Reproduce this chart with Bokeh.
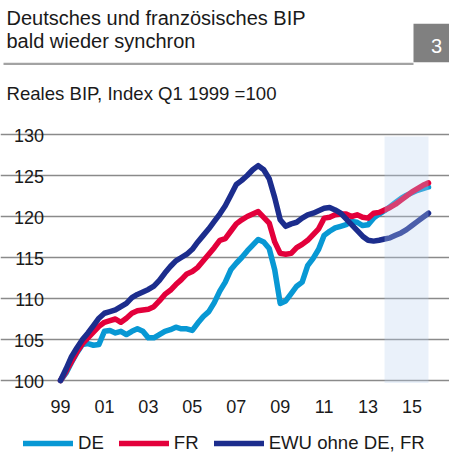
from bokeh.plotting import figure
from bokeh.models import (FixedTicker, Label, BoxAnnotation, Legend, LegendItem,
                          Range1d, Grid)
from bokeh.core.properties import value
from bokeh.embed import file_html
from bokeh.resources import INLINE
import numpy as np

# ---------------- data (quarterly, Q1 1999 .. Q4 2015, index Q1 1999 = 100) ----------------
start_year = 1999
de = [100.0, 100.9, 102.2, 103.4, 104.4, 104.5, 104.3, 104.4,
      106.0, 106.1, 105.8, 106.0, 105.6, 106.0, 106.3, 106.0,
      105.2, 105.2, 105.6, 106.0, 106.2, 106.5, 106.3, 106.3,
      106.1, 107.0, 107.8, 108.4, 109.5, 110.9, 112.0, 113.5,
      114.3, 115.0, 115.8, 116.5, 117.2, 116.9, 116.1, 113.5,
      109.4, 109.7, 110.6, 111.5, 112.0, 114.0, 114.9, 116.0,
      117.7, 118.2, 118.6, 118.8, 119.0, 119.4, 119.3, 118.9,
      119.0, 119.8, 120.3, 120.7, 121.2, 121.7, 122.2, 122.6,
      122.9, 123.2, 123.4, 123.6]
fr = [100.0, 101.1, 102.3, 103.5, 104.5, 105.2, 105.9, 106.6,
      107.1, 107.3, 107.5, 107.1, 107.6, 108.2, 108.5, 108.6,
      108.7, 109.0, 109.7, 110.5, 111.0, 111.7, 112.3, 113.0,
      113.3, 113.8, 114.6, 115.4, 116.2, 117.1, 117.3, 118.2,
      119.1, 119.6, 120.0, 120.3, 120.6, 119.9, 119.2, 116.9,
      115.5, 115.4, 115.5, 116.2, 116.6, 117.1, 117.8, 118.5,
      119.8, 119.9, 120.2, 120.3, 120.3, 120.0, 120.2, 119.9,
      119.8, 120.4, 120.5, 120.8, 121.1, 121.5, 122.0, 122.5,
      123.0, 123.4, 123.8, 124.1]
ewu = [100.0, 101.4, 102.9, 104.0, 105.0, 105.8, 106.7, 107.6,
       108.2, 108.4, 108.6, 109.0, 109.4, 110.1, 110.5, 110.8,
       111.1, 111.5, 112.2, 113.1, 113.9, 114.6, 115.0, 115.4,
       116.0, 116.9, 117.7, 118.5, 119.4, 120.3, 121.3, 122.6,
       123.9, 124.4, 125.0, 125.7, 126.2, 125.7, 124.6, 122.3,
       119.6, 118.8, 119.1, 119.3, 119.8, 120.2, 120.4, 120.7,
       121.0, 121.1, 120.8, 120.4, 119.7, 119.0, 118.3, 117.6,
       117.1, 117.0, 117.1, 117.25, 117.4, 117.7, 118.0, 118.4,
       118.9, 119.4, 119.9, 120.4]
series_names = ["DE", "FR", "EWU ohne DE, FR"]
series_colors = ["#0898d4", "#e3003b", "#1c2d8d"]
x_tick_years = [1999, 2001, 2003, 2005, 2007, 2009, 2011, 2013, 2015]
x_tick_labels = ["99", "01", "03", "05", "07", "09", "11", "13", "15"]
y_ticks = [100, 105, 110, 115, 120, 125, 130]
y_tick_labels = ["100", "105", "110", "115", "120", "125", "130"]
x_start, x_end = 1999.0, 2015.75
forecast_start = 2013.75   # Q4 2013
title_lines = ["Deutsches und französisches BIP", "bald wieder synchron"]
subtitle = "Reales BIP, Index Q1 1999 =100"
chart_number = "3"

# ---------------- layout (pixel anchors of the plotting area) ----------------
W, H = 449, 454
PX_L, PX_R = 60.0, 428.0      # pixel x of x_start / x_end
PY_100, PY_130 = 380.0, 134.0  # pixel y of 100 / 130
FONT = "Liberation Sans"
TXT = "#1a1a1a"

sx = (PX_R - PX_L) / (x_end - x_start)
sy = (PY_100 - PY_130) / 30.0
xr = Range1d(x_start - PX_L / sx, x_start + (W - PX_L) / sx)
yr = Range1d(100 - (H - PY_100) / sy, 100 + PY_100 / sy)

def px2x(px):
    return x_start + (px - PX_L) / sx
def py2y(py):
    return 100 + (PY_100 - py) / sy

p = figure(width=W, height=H, x_range=xr, y_range=yr,
           output_backend="svg", toolbar_location=None,
           x_axis_location=None, y_axis_location=None,
           min_border=0, min_border_left=0, min_border_right=0,
           min_border_top=0, min_border_bottom=0)
p.outline_line_color = None
p.background_fill_color = "white"
p.border_fill_color = "white"
p.xgrid.visible = False
p.ygrid.visible = False

# horizontal grid lines, limited to the data period
p.add_layout(Grid(dimension=1, ticker=FixedTicker(ticks=y_ticks), bounds=(x_start, x_end),
                  grid_line_color="#8a8a8a", grid_line_width=1.3))

# tick labels
p.text(x=x_tick_years, y=[py2y(406)] * len(x_tick_years), text=x_tick_labels,
       text_font=value(FONT), text_font_size="18px", text_color=TXT,
       text_align="center", text_baseline="alphabetic")
p.text(x=[px2x(43.5)] * len(y_ticks), y=y_ticks, text=y_tick_labels,
       text_font=value(FONT), text_font_size="18px", text_color=TXT,
       text_align="right", text_baseline="alphabetic", y_offset=1.0)

# lines
xq = start_year + np.arange(len(de)) / 4.0
renderers = []
for vals, col in zip([de, fr, ewu], series_colors):
    r = p.line(xq, vals, line_color=col, line_width=5.5, line_cap="round", line_join="round")
    renderers.append(r)

# forecast shading (over the lines, translucent)
p.add_layout(BoxAnnotation(left=forecast_start, right=x_end, bottom=py2y(382.5), top=py2y(136),
                           fill_color="#b9d0ee", fill_alpha=0.3, line_color=None))

# legend
legend = Legend(items=[LegendItem(label=n, renderers=[r]) for n, r in zip(series_names, renderers)],
                orientation="horizontal", location=(23, 0),
                glyph_width=50, glyph_height=20, label_standoff=5, spacing=15,
                padding=0, margin=0, border_line_color=None, background_fill_alpha=0,
                label_text_font=FONT, label_text_font_size="18.6px", label_text_color=TXT)
p.add_layout(legend)

# header
p.add_layout(BoxAnnotation(left=px2x(3), right=px2x(413), top=py2y(62.2), bottom=py2y(64.6),
                           fill_color="#a3a3a3", fill_alpha=1, line_color=None))
p.add_layout(BoxAnnotation(left=px2x(413), right=px2x(449), top=py2y(23.3), bottom=py2y(61.7),
                           fill_color="#808080", fill_alpha=1, line_color=None))
p.add_layout(Label(x=px2x(436), y=py2y(45.5), text=chart_number, text_font=FONT,
                   text_font_size="20px", text_color="white", text_align="center",
                   text_baseline="alphabetic"))
for i, t in enumerate(title_lines):
    p.add_layout(Label(x=px2x(6), y=py2y(17.5 + 22.6 * i), text=t, text_font=FONT,
                       text_font_size="20px", text_color=TXT, text_align="left",
                       text_baseline="alphabetic"))
p.add_layout(Label(x=px2x(6), y=py2y(92.5), text=subtitle, text_font=FONT,
                   text_font_size="18.6px", text_color=TXT, text_align="left",
                   text_baseline="alphabetic"))

open("out.html", "w").write(file_html(p, INLINE))
